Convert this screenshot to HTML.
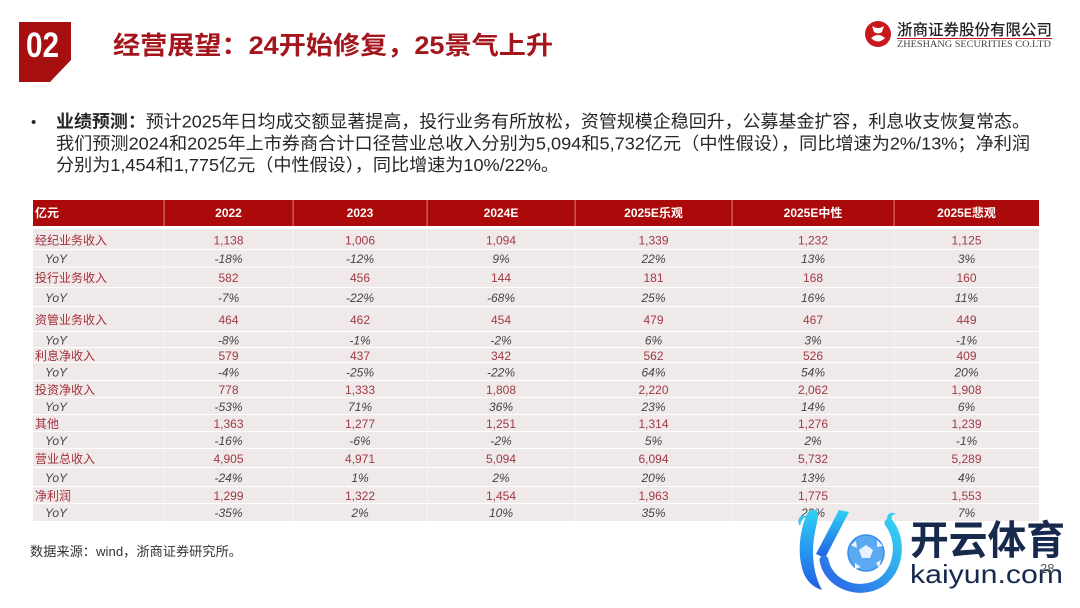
<!DOCTYPE html>
<html><head><meta charset="utf-8">
<style>
html,body{margin:0;padding:0;background:#fff;}
svg{display:block;}
text{font-family:"Liberation Sans","Noto Sans CJK SC",sans-serif;}
</style></head>
<body>
<svg width="1080" height="608" viewBox="0 0 1080 608" xmlns="http://www.w3.org/2000/svg">
<defs>
<linearGradient id="kg" x1="0" y1="0" x2="0" y2="1">
<stop offset="0" stop-color="#2fd0f5"/><stop offset="1" stop-color="#1f5fe6"/>
</linearGradient>
<linearGradient id="kg2" x1="0" y1="1" x2="1" y2="0">
<stop offset="0" stop-color="#2a62e6"/><stop offset="1" stop-color="#35d2f2"/>
</linearGradient>
</defs>
<rect width="1080" height="608" fill="#fff"/>

<!-- 02 box -->
<polygon points="19,22 71,22 71,60 50,82 19,82" fill="#a60f10"/>
<text x="26" y="57" font-size="35" font-weight="bold" fill="#fff" textLength="33" lengthAdjust="spacingAndGlyphs">02</text>

<!-- title -->
<text x="113" y="54" font-size="25" font-weight="bold" fill="#a3161c" textLength="440" lengthAdjust="spacingAndGlyphs">经营展望：24开始修复，25景气上升</text>

<!-- company logo -->
<circle cx="878" cy="34" r="13" fill="#c8161d"/>
<path d="M872,26 q6,4 12,0 l-2,6 q-4,3 -8,0 z M871,38 q7,-6 14,0 q-7,7 -14,0 z" fill="#fff"/>
<text x="897" y="35" font-size="15.5" font-weight="500" fill="#222" textLength="155" lengthAdjust="spacingAndGlyphs">浙商证券股份有限公司</text>
<rect x="897" y="38" width="155" height="1" fill="#c8161d"/>
<text x="897" y="47" font-size="9" fill="#444" style="font-family:'Liberation Serif',serif" textLength="154" lengthAdjust="spacingAndGlyphs">ZHESHANG SECURITIES CO.LTD</text>

<!-- paragraph -->
<text x="31" y="127" font-size="15" fill="#262626">•</text>
<text x="56" y="127.5" font-size="17.5" fill="#262626" textLength="974" lengthAdjust="spacingAndGlyphs"><tspan font-weight="bold">业绩预测：</tspan>预计2025年日均成交额显著提高，投行业务有所放松，资管规模企稳回升，公募基金扩容，利息收支恢复常态。</text>
<text x="56" y="149.5" font-size="17.5" fill="#262626" textLength="974" lengthAdjust="spacingAndGlyphs">我们预测2024和2025年上市券商合计口径营业总收入分别为5,094和5,732亿元（中性假设），同比增速为2%/13%；净利润</text>
<text x="56" y="171" font-size="17.5" fill="#262626" textLength="503" lengthAdjust="spacingAndGlyphs">分别为1,454和1,775亿元（中性假设），同比增速为10%/22%。</text>

<!-- table header -->
<rect x="33" y="200" width="1006" height="26" fill="#ac0a0a"/>
<g fill="#d86a6a">
<rect x="163.5" y="200" width="1.2" height="26"/><rect x="292.5" y="200" width="1.2" height="26"/>
<rect x="426.5" y="200" width="1.2" height="26"/><rect x="574.5" y="200" width="1.2" height="26"/>
<rect x="731.5" y="200" width="1.2" height="26"/><rect x="893.5" y="200" width="1.2" height="26"/>
</g>
<g font-size="12" font-weight="bold" fill="#fff" text-anchor="middle">
<text x="35" y="217" text-anchor="start">亿元</text>
<text x="228.5" y="217">2022</text><text x="360" y="217">2023</text><text x="501" y="217">2024E</text>
<text x="653.5" y="217">2025E乐观</text><text x="813" y="217">2025E中性</text><text x="966.5" y="217">2025E悲观</text>
</g>

<!-- table rows bg -->
<g fill="#f0e9e9">
<rect x="33" y="229" width="1006" height="20"/>
<rect x="33" y="250" width="1006" height="16.5"/>
<rect x="33" y="267.5" width="1006" height="19.5"/>
<rect x="33" y="288" width="1006" height="18"/>
<rect x="33" y="307" width="1006" height="24"/>
<rect x="33" y="332" width="1006" height="15"/>
<rect x="33" y="348" width="1006" height="14"/>
<rect x="33" y="363" width="1006" height="17"/>
<rect x="33" y="381" width="1006" height="16"/>
<rect x="33" y="398" width="1006" height="16"/>
<rect x="33" y="415" width="1006" height="16"/>
<rect x="33" y="432" width="1006" height="16"/>
<rect x="33" y="449" width="1006" height="18"/>
<rect x="33" y="468" width="1006" height="18"/>
<rect x="33" y="487" width="1006" height="16"/>
<rect x="33" y="504" width="1006" height="17"/>
</g>
<g fill="#f8f4f4">
<rect x="163.5" y="229" width="1" height="292"/><rect x="292.5" y="229" width="1" height="292"/>
<rect x="426.5" y="229" width="1" height="292"/><rect x="574.5" y="229" width="1" height="292"/>
<rect x="731.5" y="229" width="1" height="292"/><rect x="893.5" y="229" width="1" height="292"/>
</g>

<!-- labels -->
<g font-size="12" fill="#a3303c">
<text x="35" y="244.3">经纪业务收入</text>
<text x="35" y="281.8">投行业务收入</text>
<text x="35" y="323.8">资管业务收入</text>
<text x="35" y="359.8">利息净收入</text>
<text x="35" y="393.8">投资净收入</text>
<text x="35" y="427.8">其他</text>
<text x="35" y="462.8">营业总收入</text>
<text x="35" y="499.8">净利润</text>
</g>
<g font-size="12" fill="#444" font-style="italic">
<text x="45" y="262.8">YoY</text><text x="45" y="301.8">YoY</text><text x="45" y="344.3">YoY</text>
<text x="45" y="376.3">YoY</text><text x="45" y="410.8">YoY</text><text x="45" y="444.8">YoY</text>
<text x="45" y="481.8">YoY</text><text x="45" y="516.8">YoY</text>
</g>

<!-- values -->
<g font-size="12" fill="#9e3a45" text-anchor="middle">
<text x="228.5" y="244.3">1,138</text><text x="360" y="244.3">1,006</text><text x="501" y="244.3">1,094</text><text x="653.5" y="244.3">1,339</text><text x="813" y="244.3">1,232</text><text x="966.5" y="244.3">1,125</text>
<text x="228.5" y="281.8">582</text><text x="360" y="281.8">456</text><text x="501" y="281.8">144</text><text x="653.5" y="281.8">181</text><text x="813" y="281.8">168</text><text x="966.5" y="281.8">160</text>
<text x="228.5" y="323.8">464</text><text x="360" y="323.8">462</text><text x="501" y="323.8">454</text><text x="653.5" y="323.8">479</text><text x="813" y="323.8">467</text><text x="966.5" y="323.8">449</text>
<text x="228.5" y="359.8">579</text><text x="360" y="359.8">437</text><text x="501" y="359.8">342</text><text x="653.5" y="359.8">562</text><text x="813" y="359.8">526</text><text x="966.5" y="359.8">409</text>
<text x="228.5" y="393.8">778</text><text x="360" y="393.8">1,333</text><text x="501" y="393.8">1,808</text><text x="653.5" y="393.8">2,220</text><text x="813" y="393.8">2,062</text><text x="966.5" y="393.8">1,908</text>
<text x="228.5" y="427.8">1,363</text><text x="360" y="427.8">1,277</text><text x="501" y="427.8">1,251</text><text x="653.5" y="427.8">1,314</text><text x="813" y="427.8">1,276</text><text x="966.5" y="427.8">1,239</text>
<text x="228.5" y="462.8">4,905</text><text x="360" y="462.8">4,971</text><text x="501" y="462.8">5,094</text><text x="653.5" y="462.8">6,094</text><text x="813" y="462.8">5,732</text><text x="966.5" y="462.8">5,289</text>
<text x="228.5" y="499.8">1,299</text><text x="360" y="499.8">1,322</text><text x="501" y="499.8">1,454</text><text x="653.5" y="499.8">1,963</text><text x="813" y="499.8">1,775</text><text x="966.5" y="499.8">1,553</text>
</g>
<g font-size="12" fill="#444" font-style="italic" text-anchor="middle">
<text x="228.5" y="262.8">-18%</text><text x="360" y="262.8">-12%</text><text x="501" y="262.8">9%</text><text x="653.5" y="262.8">22%</text><text x="813" y="262.8">13%</text><text x="966.5" y="262.8">3%</text>
<text x="228.5" y="301.8">-7%</text><text x="360" y="301.8">-22%</text><text x="501" y="301.8">-68%</text><text x="653.5" y="301.8">25%</text><text x="813" y="301.8">16%</text><text x="966.5" y="301.8">11%</text>
<text x="228.5" y="344.3">-8%</text><text x="360" y="344.3">-1%</text><text x="501" y="344.3">-2%</text><text x="653.5" y="344.3">6%</text><text x="813" y="344.3">3%</text><text x="966.5" y="344.3">-1%</text>
<text x="228.5" y="376.3">-4%</text><text x="360" y="376.3">-25%</text><text x="501" y="376.3">-22%</text><text x="653.5" y="376.3">64%</text><text x="813" y="376.3">54%</text><text x="966.5" y="376.3">20%</text>
<text x="228.5" y="410.8">-53%</text><text x="360" y="410.8">71%</text><text x="501" y="410.8">36%</text><text x="653.5" y="410.8">23%</text><text x="813" y="410.8">14%</text><text x="966.5" y="410.8">6%</text>
<text x="228.5" y="444.8">-16%</text><text x="360" y="444.8">-6%</text><text x="501" y="444.8">-2%</text><text x="653.5" y="444.8">5%</text><text x="813" y="444.8">2%</text><text x="966.5" y="444.8">-1%</text>
<text x="228.5" y="481.8">-24%</text><text x="360" y="481.8">1%</text><text x="501" y="481.8">2%</text><text x="653.5" y="481.8">20%</text><text x="813" y="481.8">13%</text><text x="966.5" y="481.8">4%</text>
<text x="228.5" y="516.8">-35%</text><text x="360" y="516.8">2%</text><text x="501" y="516.8">10%</text><text x="653.5" y="516.8">35%</text><text x="813" y="516.8">22%</text><text x="966.5" y="516.8">7%</text>
</g>

<!-- footer -->
<text x="30" y="556" font-size="13" fill="#333" textLength="212" lengthAdjust="spacingAndGlyphs">数据来源：wind，浙商证券研究所。</text>

<!-- watermark logo -->
<path d="M807,514 C799,532 797,556 804,574 C808,583 815,588 822,590 C813,574 811,552 815,532 C817,522 819,516 817,511 C813,509 809,510 807,514 Z" fill="url(#kg)"/>
<path d="M806,516 C800,514 796,520 800,526 C801,521 803,518 806,516 Z" fill="#33c6f2"/>
<path d="M839,510 L849,512 L825,558 L816,554 Z" fill="url(#kg)"/>
<path d="M824,560 C828,584 858,596 880,583 C899,571 903,541 889,523" fill="none" stroke="url(#kg2)" stroke-width="9" stroke-linecap="round"/>
<path d="M889,523 C884,516 890,510 896,514 C892,514 890,518 893,522 Z" fill="#35cdf2"/>
<circle cx="866" cy="553" r="18" fill="#5ba9f0" stroke="#3d8de8" stroke-width="1.5"/>
<g fill="#e8f3ff">
<polygon points="866,545 873,550 870,558 862,558 859,550"/>
<polygon points="851,545 856,541 857,548"/>
<polygon points="877,540 883,546 877,547"/>
<polygon points="855,563 861,567 855,569"/>
<polygon points="876,563 881,560 879,568"/>
</g>
<text x="910" y="554" font-size="40" font-weight="bold" fill="#172a4e" textLength="155" lengthAdjust="spacingAndGlyphs">开云体育</text>
<text x="910" y="583" font-size="26" fill="#172a4e" textLength="153" lengthAdjust="spacingAndGlyphs">kaiyun.com</text>
<text x="1040" y="573" font-size="13" fill="#555">28</text>
</svg>
</body></html>
